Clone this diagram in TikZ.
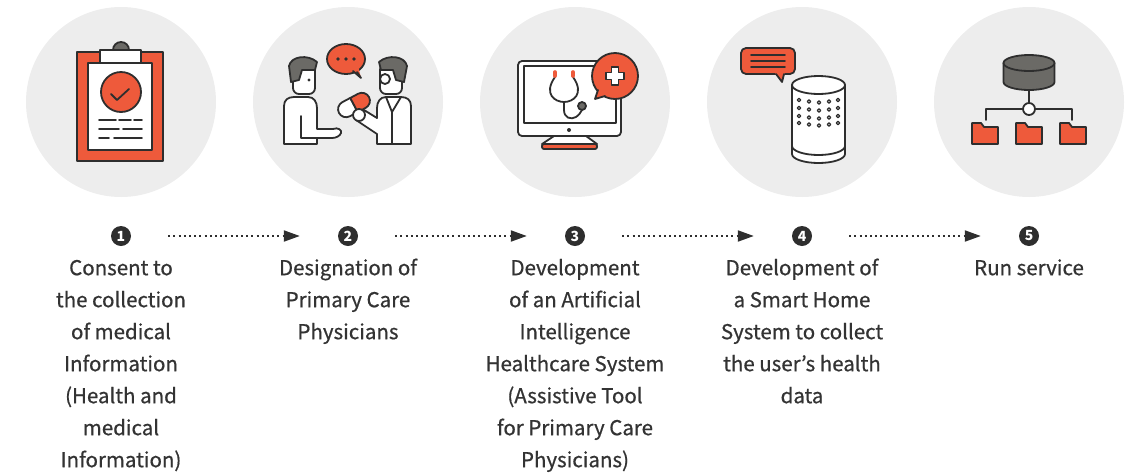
\documentclass[tikz,border=0pt]{standalone}
\usepackage{fontspec}
\setmainfont{Noto Sans CJK KR}
\newfontfamily\capfont{Noto Sans CJK KR}[FakeBold=0.7]
\usetikzlibrary{positioning,arrows.meta}

\definecolor{accent}{HTML}{EE5A3B}
\definecolor{discgray}{HTML}{EDEDED}
\definecolor{ink}{HTML}{2E2E2E}
\definecolor{stone}{HTML}{6B6A66}
\definecolor{textgray}{HTML}{333333}

\begin{document}
\begin{tikzpicture}[x=1pt,y=1pt,node distance=227pt,on grid,
    disc/.style={circle,fill=discgray,minimum size=190pt,inner sep=0pt},
    badge/.style={circle,fill=ink,text=white,minimum size=20pt,inner sep=0pt,font=\bfseries\fontsize{14}{14}\selectfont},
    caption/.style={align=center,text=textgray,inner sep=0pt,font=\capfont\fontsize{20.5}{32}\selectfont},
    flow/.style={-{Triangle[length=16pt,width=11pt]},ink,line width=2pt,dash pattern=on 2pt off 3.2pt,shorten <=37pt,shorten >=38pt},
    icon/.style={line width=1.8pt,draw=ink,line join=round,line cap=round}]
  \useasboundingbox (0,0) rectangle (1131,-472);

  % numbered steps
  \node(num1) [badge] at (121,-236) {1};
  \node(num2) [badge, right=of num1] {2};
  \node(num3) [badge, right=of num2] {3};
  \node(num4) [badge, right=of num3] {4};
  \node(num5) [badge, right=of num4] {5};
  \draw[flow] (num1) -- (num2);
  \draw[flow] (num2) -- (num3);
  \draw[flow] (num3) -- (num4);
  \draw[flow] (num4) -- (num5);

  % grey discs behind the icons
  \node(disc1) [disc, above=134pt of num1] {};
  \node(disc2) [disc, above=134pt of num2] {};
  \node(disc3) [disc, above=134pt of num3] {};
  \node(disc4) [disc, above=134pt of num4] {};
  \node(disc5) [disc, above=134pt of num5] {};

  % captions
  \node(text1) [caption, below=16.6pt of num1, anchor=north] {\strut Consent to\\the collection\\of medical\\Information\\(Health and\\medical\\Information)};
  \node(text2) [caption, below=16.6pt of num2, anchor=north] {\strut Designation of\\Primary Care\\Physicians};
  \node(text3) [caption, below=16.6pt of num3, anchor=north] {\strut Development\\of an Artificial\\Intelligence\\Healthcare System\\(Assistive Tool\\for Primary Care\\Physicians)};
  \node(text4) [caption, below=16.6pt of num4, anchor=north] {\strut Development of\\a Smart Home\\System to collect\\the user’s health\\data};
  \node(text5) [caption, below=16.6pt of num5, anchor=north] {\strut Run service};

  % clipboard
  \begin{scope}[shift={(disc1)},yscale=-1,icon]
    \filldraw[fill=accent] (-44,-50) rectangle (42,59);
    \filldraw[fill=white] (-33,-39) rectangle (31,48);
    \filldraw[fill=stone] (-8,-52) arc (180:360:8) -- cycle;
    \filldraw[fill=white] (-21,-52) rectangle (20,-39);
    \filldraw[fill=accent] (0,-10) circle (20);
    \draw (-10,-8) -- (-4,-2) -- (8,-13);
    \draw (-22,18) -- (-5,18) (-2,18) -- (10,18) (13,18) -- (21,18);
    \draw (-22,27) -- (-2,27) (2,27) -- (21,27);
    \draw (-22,36) -- (-12,36) (-7,36) -- (21,36);
  \end{scope}

  % patient and doctor
  \begin{scope}[shift={(disc2)},yscale=-1,icon]
    \filldraw[fill=accent] (-2,-43) ellipse (19 and 15);
    \fill[accent] (4,-32) -- (13,-24) -- (10,-36) -- cycle;
    \draw (5,-31) -- (13,-24) -- (9,-30);
    \foreach \x in {-10,-2,6} \fill[ink] (\x,-43) circle (1.8);
    % patient
    \filldraw[fill=white] (-64,42) -- (-64,4) .. controls (-64,-2) and (-60,-5) .. (-54,-5) -- (-40,-5)
      .. controls (-34,-5) and (-31,0) .. (-31,6) -- (-31,27) -- (-15,27) .. controls (-10,25) and (-6,28) .. (-7,31)
      .. controls (-8,34) and (-12,36) .. (-16,36) -- (-31,36) -- (-31,42) -- cycle;
    \draw (-47,14) -- (-47,36) -- (-31,36);
    \filldraw[fill=white,rounded corners=6] (-55,-38) rectangle (-33,-8);
    \filldraw[fill=stone] (-57,-20) -- (-59,-36) .. controls (-57,-46) and (-40,-48) .. (-31,-40) -- (-33,-32)
      -- (-46,-32) -- (-49,-22) -- cycle;
    \fill[ink] (-39,-22) circle (1.6);
    % doctor
    \filldraw[fill=white] (63,42) -- (63,4) .. controls (63,-2) and (59,-5) .. (53,-5) -- (38,-5)
      .. controls (32,-5) and (29,0) .. (29,6) -- (29,16) -- (16,8) -- (8,18) -- (29,32) -- (29,42) -- cycle;
    \draw (38,-5) -- (44,10) -- (53,-5) (44,10) -- (44,42);
    \filldraw[fill=white,rounded corners=6] (32,-38) rectangle (54,-8);
    \filldraw[fill=stone] (56,-20) -- (59,-36) .. controls (57,-46) and (40,-48) .. (31,-40) -- (33,-32)
      -- (45,-32) -- (48,-22) -- cycle;
    \filldraw[fill=white] (37,-23) circle (5);
    \begin{scope}[shift={(6,3)},rotate=-28]
      \filldraw[fill=white] (0,-8) -- (-9,-8) arc (270:90:8) -- (0,8) -- cycle;
      \filldraw[fill=accent] (0,-8) -- (9,-8) arc (-90:90:8) -- (0,8) -- cycle;
    \end{scope}
    \filldraw[fill=white] (11,13) circle (6);
  \end{scope}

  % monitor with stethoscope
  \begin{scope}[shift={(disc3)},yscale=-1,icon]
    \filldraw[fill=white] (-21,34) -- (11,34) -- (22,42) -- (-33,42) -- cycle;
    \filldraw[fill=accent,rounded corners=2] (-33,42) rectangle (22,47);
    \filldraw[fill=white,rounded corners=4] (-57,-41) rectangle (46,34);
    \draw[line width=1.4pt] (-51,-36) rectangle (41,21);
    \fill[ink] (-6,28) circle (2);
    \draw (-20,-25) .. controls (-32,-8) and (-20,0) .. (-11,0) .. controls (-2,0) and (10,-8) .. (-2,-25);
    \draw[accent,line width=3.6pt] (-20,-30) -- (-20,-26) (-2,-30) -- (-2,-26);
    \draw (-11,0) -- (-11,8) .. controls (-11,16) and (-4,18) .. (1,15) .. controls (4,13) and (6,10) .. (7,8);
    \filldraw[fill=stone] (7,4) circle (4);
    \filldraw[fill=accent] (40,-26) circle (23);
    \fill[accent] (24,-14) -- (20,-3) -- (32,-7) -- cycle;
    \draw (23,-12) -- (20,-3) -- (30,-6);
    \filldraw[fill=white,line width=1.4pt] (36.5,-35) -- (43.5,-35) -- (43.5,-29.5) -- (49,-29.5) -- (49,-22.5)
      -- (43.5,-22.5) -- (43.5,-17) -- (36.5,-17) -- (36.5,-22.5) -- (31,-22.5) -- (31,-29.5) -- (36.5,-29.5) -- cycle;
  \end{scope}

  % smart speaker
  \begin{scope}[shift={(disc4)},yscale=-1,icon]
    \filldraw[fill=accent,rounded corners=5] (-61,-54) rectangle (-7,-28);
    \fill[accent] (-27,-29) -- (-20,-20) -- (-17,-29) -- cycle;
    \draw (-26,-28) -- (-20,-20) -- (-18,-28);
    \draw (-51,-47) -- (-17,-47) (-51,-41) -- (-17,-41) (-51,-35) -- (-17,-35);
    \filldraw[fill=white] (-10,-17) -- (-10,52) arc (180:0:26.5 and 9) -- (43,-17) -- cycle;
    \filldraw[fill=white] (16.5,-17) ellipse (26.5 and 9);
    \draw (-10,44) arc (180:0:26.5 and 9);
    \foreach \x/\dy in {-3/0,7/1.5,17/2.5,27/1.5,36/0}
      \foreach \y in {-2,6,14,21}
        \draw[line width=1.2pt] (\x,\y+\dy) circle (1.8);
  \end{scope}

  % database and folders
  \begin{scope}[shift={(disc5)},yscale=-1,icon]
    \filldraw[fill=stone] (-25.5,-39) -- (-25.5,-20) arc (180:0:25.5 and 8) -- (25.5,-39) -- cycle;
    \filldraw[fill=stone] (0,-39) ellipse (25.5 and 8);
    \draw (0,-12) -- (0,1);
    \draw (-43,18) -- (-43,7) -- (-6,7) (6,7) -- (43,7) -- (43,18);
    \filldraw[fill=white] (0,7) circle (6);
    \foreach \x in {-57,-13,31}
      \filldraw[fill=accent] (\x,42) -- (\x,21) -- (\x+9,21) -- (\x+12,25) -- (\x+26,25) -- (\x+26,42) -- cycle;
  \end{scope}
\end{tikzpicture}
\end{document}
